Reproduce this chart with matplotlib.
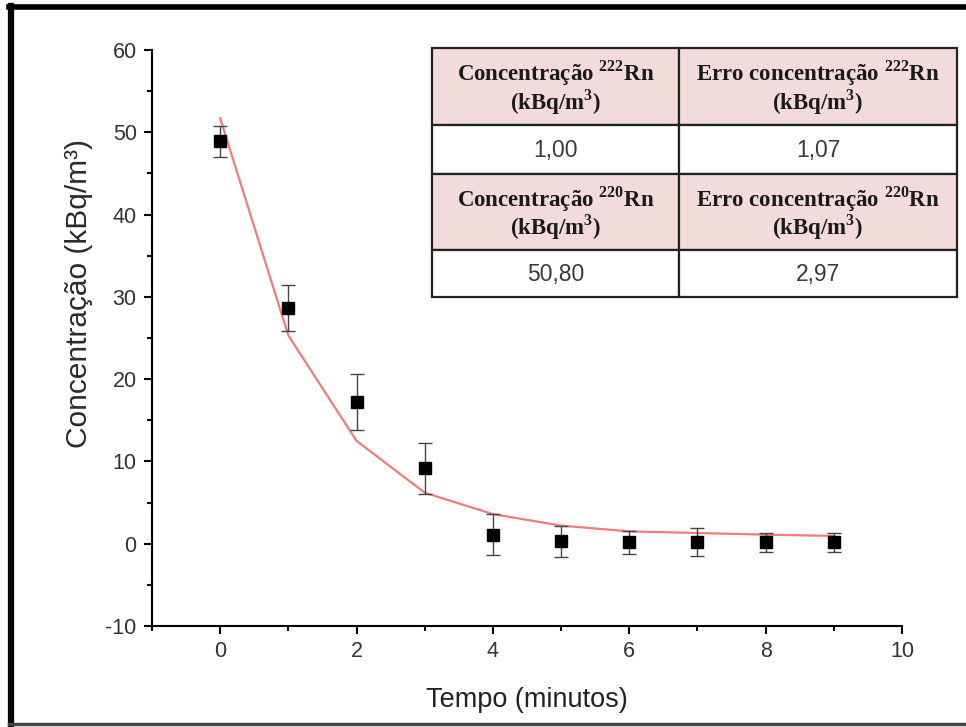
import matplotlib.pyplot as plt
import matplotlib.patches as patches
from matplotlib.lines import Line2D
from matplotlib.ticker import MultipleLocator

plt.rcParams['font.family'] = ['Liberation Sans', 'DejaVu Sans']
plt.rcParams['mathtext.fontset'] = 'custom'
plt.rcParams['mathtext.rm'] = 'Liberation Serif'
plt.rcParams['mathtext.bf'] = 'Liberation Serif:bold'
plt.rcParams['axes.unicode_minus'] = False

# measured points (minutes, kBq/m3) with error
tempo = [0, 1, 2, 3, 4, 5, 6, 7, 8, 9]
conc = [48.9, 28.6, 17.2, 9.2, 1.1, 0.3, 0.2, 0.2, 0.15, 0.15]
erro = [1.9, 2.8, 3.4, 3.1, 2.5, 1.9, 1.4, 1.7, 1.2, 1.15]

# fitted curve
ajuste = [51.7, 25.3, 12.5, 6.2, 3.6, 2.2, 1.5, 1.3, 1.1, 0.95]

# table contents
cabecalho_1 = ['Concentração $^{\\mathbf{222}}$Rn\n(kBq/m$^{\\mathbf{3}}$)',
               'Erro concentração $^{\\mathbf{222}}$Rn\n(kBq/m$^{\\mathbf{3}}$)']
valores_1 = ['1,00', '1,07']
cabecalho_2 = ['Concentração $^{\\mathbf{220}}$Rn\n(kBq/m$^{\\mathbf{3}}$)',
               'Erro concentração $^{\\mathbf{220}}$Rn\n(kBq/m$^{\\mathbf{3}}$)']
valores_2 = ['50,80', '2,97']

W, H = 966, 727
fig = plt.figure(figsize=(W / 100, H / 100), dpi=100)
ax = fig.add_axes([152 / W, 1 - 626 / H, 750 / W, 576 / H])

ax.plot(tempo, ajuste, color='#f07c7c', lw=1.6, zorder=2)
ax.errorbar(tempo, conc, yerr=erro, fmt='s', color='black', ms=8,
            ecolor='#444444', elinewidth=1.0, capsize=5, capthick=1.0, zorder=3)

ax.set_xlim(-1, 10)
ax.set_ylim(-10, 60)
ax.xaxis.set_major_locator(MultipleLocator(2))
ax.xaxis.set_minor_locator(MultipleLocator(1))
ax.yaxis.set_major_locator(MultipleLocator(10))
ax.yaxis.set_minor_locator(MultipleLocator(5))
for s in ['top', 'right']:
    ax.spines[s].set_visible(False)
for s in ['left', 'bottom']:
    ax.spines[s].set_linewidth(1.5)
ax.tick_params(which='major', direction='out', length=6, width=1.5,
               labelsize=15.5, labelcolor='#333333', pad=5)
ax.tick_params(which='minor', direction='out', length=3.5, width=1.5)
ax.set_xlabel('Tempo (minutos)', fontsize=19.5, labelpad=18, color='#222222')
ax.set_ylabel('Concentração (kBq/m³)', fontsize=21.5, color='#2a2a2a')
ax.yaxis.set_label_coords(-0.078, 0.578)

# table drawn in pixel coordinates of the figure
def px(x, y):
    return x / W, 1 - y / H

col_x = [432, 679, 957]
row_y = [48, 125, 174, 250, 297]
linhas = [(cabecalho_1, True), (valores_1, False), (cabecalho_2, True), (valores_2, False)]
for r, (textos, cab) in enumerate(linhas):
    for c, txt in enumerate(textos):
        x0, x1 = col_x[c], col_x[c + 1]
        y0, y1 = row_y[r], row_y[r + 1]
        rect = patches.Rectangle(px(x0, y1), (x1 - x0) / W, (y1 - y0) / H,
                                 transform=fig.transFigure, facecolor='#f2dcdb' if cab else 'white',
                                 edgecolor='#222222', linewidth=1.6)
        fig.add_artist(rect)
        cx, cy = px((x0 + x1) / 2, (y0 + y1) / 2 + 1)
        if cab:
            fig.text(cx, cy, txt, ha='center', va='center', fontsize=16.5,
                     family='Liberation Serif', weight='bold', color='#1a1a1a',
                     linespacing=0.95, multialignment='center')
        else:
            fig.text(cx, cy, txt, ha='center', va='center', fontsize=16.5, color='#3a3a3a')

# outer frame of the picture
fig.add_artist(Line2D([11 / W, 11 / W], [0, 1 - 6 / H], transform=fig.transFigure, color='black', lw=4.5))
fig.add_artist(Line2D([9 / W, 1], [1 - 7 / H, 1 - 7 / H], transform=fig.transFigure, color='black', lw=4))
fig.add_artist(Line2D([9 / W, 1], [1 - 724 / H, 1 - 724 / H], transform=fig.transFigure, color='#444444', lw=2.5))

fig.savefig('out.png', dpi=100)
